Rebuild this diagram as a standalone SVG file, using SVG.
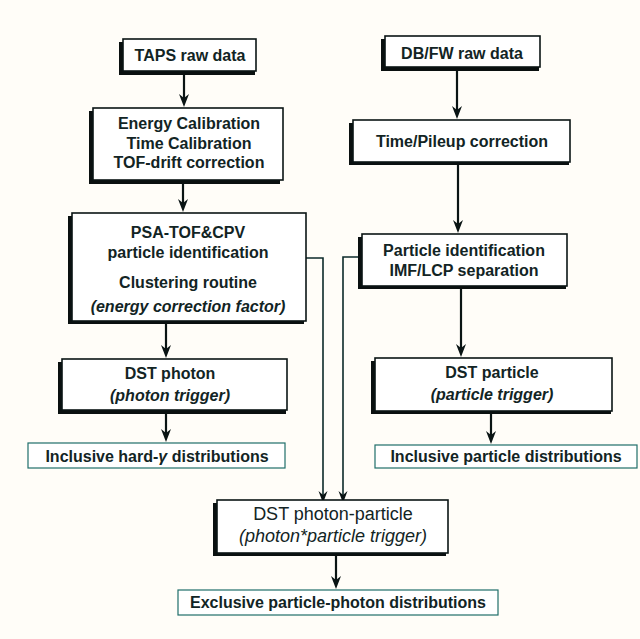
<svg xmlns="http://www.w3.org/2000/svg" width="640" height="639" viewBox="0 0 640 639">
  <style>
    .bg { fill: #fffdf8; }
    .shadow { fill: #0a1010; }
    .box { fill: #ffffff; stroke: #0a1414; stroke-width: 1.6; }
    .outbox { fill: #ffffff; stroke: #1f6e6a; stroke-width: 1.2; }
    .t { font-family: "Liberation Sans", Arial, sans-serif; font-weight: bold; font-size: 16px; fill: #122424; text-anchor: middle; }
    .it { font-style: italic; }
    .reg { font-weight: normal; font-size: 18px; }
    .flow { fill: none; stroke: #0a1414; stroke-width: 2.2; }
    .merge { fill: none; stroke: #0c2a2a; stroke-width: 1.6; }
    .head { fill: #0a1414; stroke: none; }
  </style>

  <rect class="bg" x="0" y="0" width="640" height="639"/>

  <!-- connectors: shafts, then arrowheads (tip at the lower point) -->
  <g id="connectors">
    <line class="flow" x1="184" y1="73" x2="184" y2="100"/>
    <path class="head" d="M179,94 L184,98 L189,94 L184,107 Z"/>

    <line class="flow" x1="183" y1="182" x2="183" y2="205"/>
    <path class="head" d="M178,199 L183,203 L188,199 L183,212 Z"/>

    <line class="flow" x1="166" y1="324" x2="166" y2="351"/>
    <path class="head" d="M161,345 L166,349 L171,345 L166,358 Z"/>

    <line class="flow" x1="166" y1="412" x2="166" y2="435"/>
    <path class="head" d="M161,429 L166,433 L171,429 L166,442 Z"/>

    <line class="flow" x1="457" y1="68" x2="457" y2="112"/>
    <path class="head" d="M452,106 L457,110 L462,106 L457,119 Z"/>

    <line class="flow" x1="458" y1="163" x2="458" y2="226"/>
    <path class="head" d="M453,220 L458,224 L463,220 L458,233 Z"/>

    <line class="flow" x1="461" y1="288" x2="461" y2="350"/>
    <path class="head" d="M456,344 L461,348 L466,344 L461,357 Z"/>

    <line class="flow" x1="491" y1="413" x2="491" y2="437"/>
    <path class="head" d="M486,431 L491,435 L496,431 L491,444 Z"/>

    <line class="flow" x1="336" y1="555" x2="336" y2="582"/>
    <path class="head" d="M331,576 L336,580 L341,576 L336,589 Z"/>

    <polyline class="merge" points="306,258 323,258 323,497"/>
    <path class="head" d="M318.5,491 L323,495 L327.5,491 L323,503 Z"/>

    <polyline class="merge" points="362,257 343,257 343,497"/>
    <path class="head" d="M338.5,491 L343,495 L347.5,491 L343,503 Z"/>
  </g>

  <!-- TAPS branch -->
  <g id="taps-raw">
    <rect class="shadow" x="119" y="42" width="136" height="33"/>
    <rect class="box" x="123" y="39" width="133" height="32"/>
    <text class="t" x="190" y="61">TAPS raw data</text>
  </g>

  <g id="taps-calib">
    <rect class="shadow" x="89" y="111" width="191" height="73"/>
    <rect class="box" x="93" y="108" width="190" height="72"/>
    <text class="t" x="189" y="129">Energy Calibration</text>
    <text class="t" x="189" y="149">Time Calibration</text>
    <text class="t" x="189" y="168">TOF-drift correction</text>
  </g>

  <g id="taps-psa">
    <rect class="shadow" x="68" y="216" width="236" height="108"/>
    <rect class="box" x="72" y="213" width="234" height="108"/>
    <text class="t" x="188" y="238">PSA-TOF&amp;CPV</text>
    <text class="t" x="188" y="258">particle identification</text>
    <text class="t" x="188" y="288">Clustering routine</text>
    <text class="t it" x="188" y="312">(energy correction factor)</text>
  </g>

  <g id="dst-photon">
    <rect class="shadow" x="58" y="362" width="228" height="52"/>
    <rect class="box" x="62" y="359" width="225" height="51"/>
    <text class="t" x="170" y="379">DST photon</text>
    <text class="t it" x="170" y="401">(photon trigger)</text>
  </g>

  <g id="inclusive-gamma">
    <rect class="outbox" x="28" y="443" width="257" height="25"/>
    <text class="t" x="157" y="462">Inclusive hard-<tspan class="it">γ</tspan>  distributions</text>
  </g>

  <!-- DB/FW branch -->
  <g id="dbfw-raw">
    <rect class="shadow" x="381" y="39" width="158" height="32"/>
    <rect class="box" x="385" y="36" width="155" height="31"/>
    <text class="t" x="462" y="59">DB/FW raw data</text>
  </g>

  <g id="dbfw-timing">
    <rect class="shadow" x="349" y="123" width="220" height="42"/>
    <rect class="box" x="353" y="120" width="217" height="42"/>
    <text class="t" x="462" y="147">Time/Pileup correction</text>
  </g>

  <g id="dbfw-pid">
    <rect class="shadow" x="358" y="237" width="208" height="52"/>
    <rect class="box" x="362" y="234" width="205" height="52"/>
    <text class="t" x="464" y="256">Particle identification</text>
    <text class="t" x="464" y="276">IMF/LCP separation</text>
  </g>

  <g id="dst-particle">
    <rect class="shadow" x="371" y="361" width="240" height="53"/>
    <rect class="box" x="375" y="358" width="237" height="53"/>
    <text class="t" x="492" y="378">DST particle</text>
    <text class="t it" x="492" y="400">(particle trigger)</text>
  </g>

  <g id="inclusive-particle">
    <rect class="outbox" x="375" y="445" width="262" height="23"/>
    <text class="t" x="506" y="462">Inclusive particle distributions</text>
  </g>

  <!-- combined output -->
  <g id="dst-photon-particle">
    <rect class="shadow" x="213" y="503" width="233" height="53"/>
    <rect class="box" x="217" y="500" width="231" height="53"/>
    <text class="t reg" x="333" y="520">DST photon-particle</text>
    <text class="t reg it" x="333" y="542">(photon*particle trigger)</text>
  </g>

  <g id="exclusive">
    <rect class="outbox" x="178" y="590" width="320" height="25"/>
    <text class="t" x="338" y="608">Exclusive particle-photon distributions</text>
  </g>
</svg>
